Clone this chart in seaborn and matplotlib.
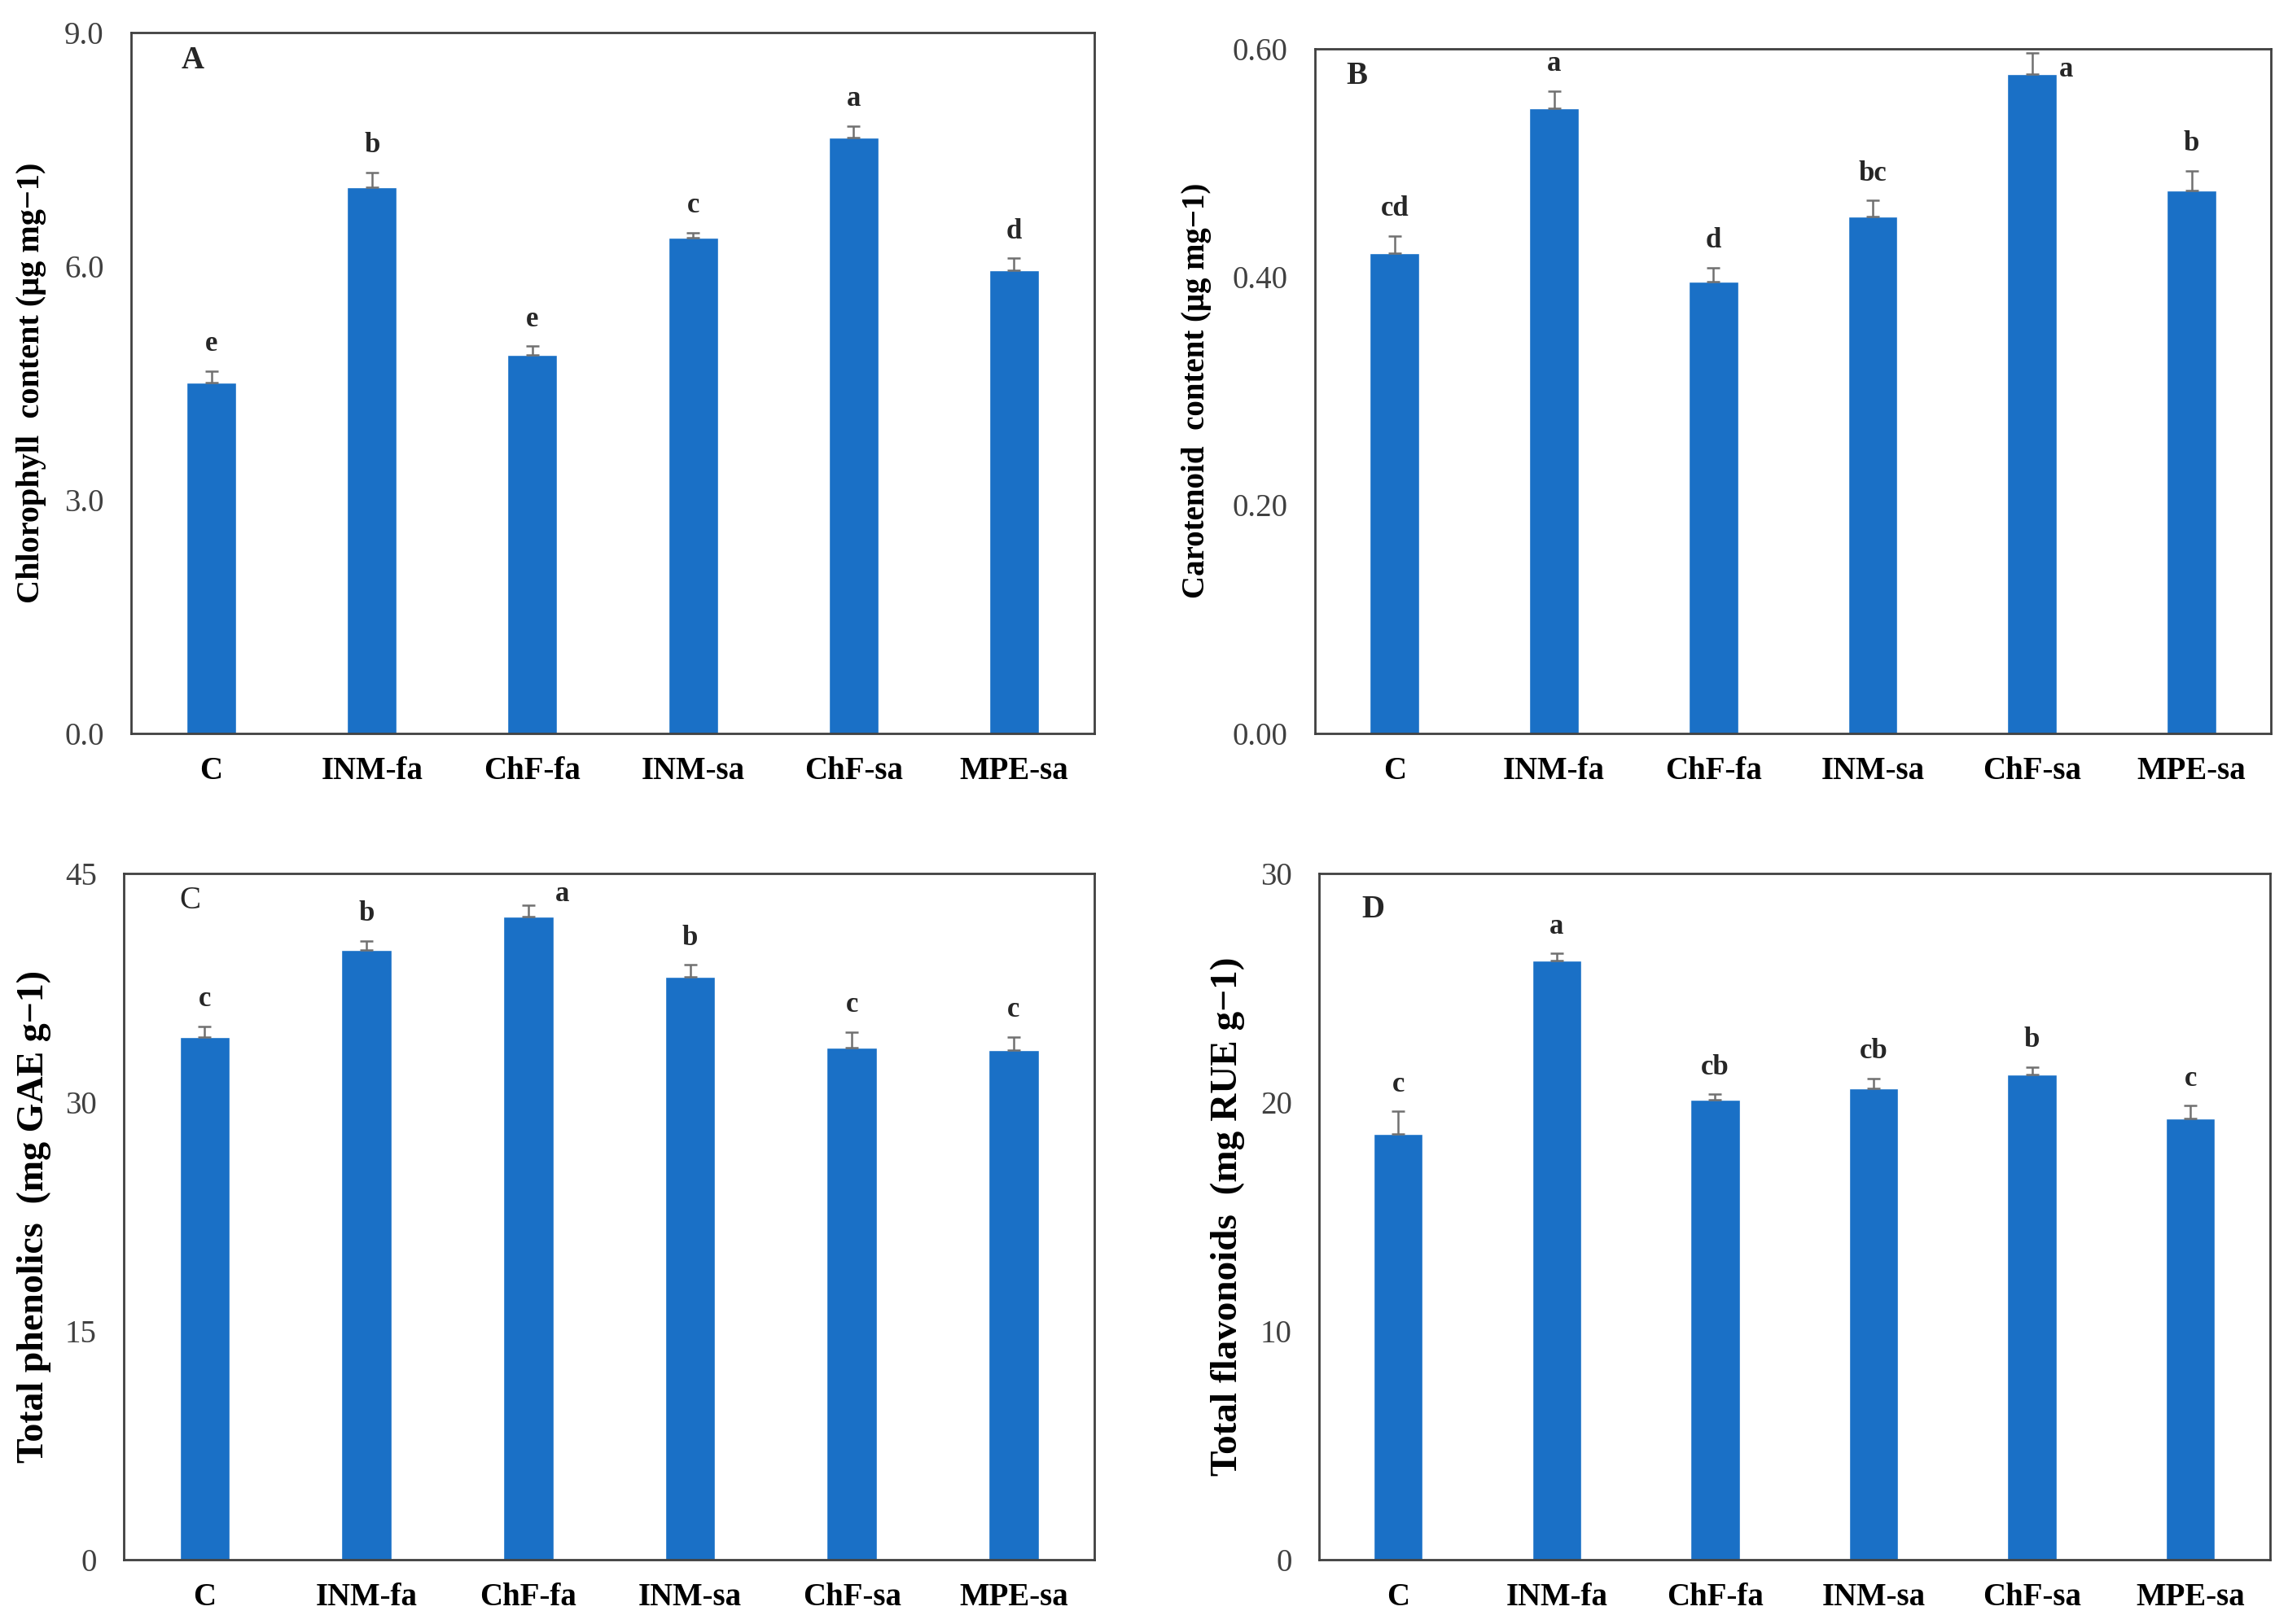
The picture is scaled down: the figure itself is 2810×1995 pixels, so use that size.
import numpy as np
import pandas as pd
import seaborn as sns
import matplotlib.pyplot as plt

treatments = ['C', 'INM-fa', 'ChF-fa', 'INM-sa', 'ChF-sa', 'MPE-sa']

chl_mean = [4.50, 7.01, 4.86, 6.36, 7.65, 5.95]
chl_err = [0.15, 0.19, 0.11, 0.07, 0.15, 0.15]
chl_sig = ['e', 'b', 'e', 'c', 'a', 'd']

car_mean = [0.421, 0.548, 0.396, 0.453, 0.578, 0.476]
car_err = [0.015, 0.015, 0.012, 0.014, 0.018, 0.017]
car_sig = ['cd', 'a', 'd', 'bc', 'a', 'b']

phe_mean = [34.3, 40.0, 42.2, 38.2, 33.6, 33.4]
phe_err = [0.67, 0.6, 0.7, 0.8, 1.0, 0.9]
phe_sig = ['c', 'b', 'a', 'b', 'c', 'c']

fla_mean = [18.6, 26.2, 20.1, 20.6, 21.2, 19.3]
fla_err = [1.0, 0.3, 0.25, 0.45, 0.35, 0.55]
fla_sig = ['c', 'a', 'cb', 'cb', 'b', 'c']

sns.set_theme(style="white")
plt.rcParams['font.family'] = ['Liberation Serif', 'DejaVu Serif']

BLUE = '#1a70c6'

fig = plt.figure(figsize=(28.1, 19.95), dpi=100)

# letter, means, errors, significance, ylabel, label size, yticks, fmt, axes rect, panel letter pos, letter weight, ylabel x
panels = [
    ('A', chl_mean, chl_err, chl_sig, 'Chlorophyll  content (μg mg−1)', 29, [0, 3, 6, 9], '{:.1f}',
     [0.0573, 0.5485, 0.421, 0.4315], (0.064, 0.96), 'bold', -0.088),
    ('B', car_mean, car_err, car_sig, 'Carotenoid  content (μg mg−1)', 28, [0, 0.2, 0.4, 0.6], '{:.2f}',
     [0.5747, 0.5485, 0.418, 0.4215], (0.044, 0.96), 'bold', -0.108),
    ('C', phe_mean, phe_err, phe_sig, 'Total phenolics  (mg GAE g−1)', 33, [0, 15, 30, 45], '{:.0f}',
     [0.0541, 0.0396, 0.4243, 0.4225], (0.068, 0.96), 'normal', -0.075),
    ('D', fla_mean, fla_err, fla_sig, 'Total flavonoids  (mg RUE g−1)', 34, [0, 10, 20, 30], '{:.0f}',
     [0.5765, 0.0396, 0.4155, 0.4225], (0.057, 0.947), 'bold', -0.078),
]

for letter, means, errs, sigs, ylabel, ysize, yticks, fmt, rect, lpos, lweight, ylx in panels:
    ax = fig.add_axes(rect)
    df = pd.DataFrame({'Treatment': treatments, 'Value': means})
    sns.barplot(data=df, x='Treatment', y='Value', color=BLUE, width=0.31,
                saturation=1, errorbar=None, ax=ax)
    ax.errorbar(np.arange(len(treatments)), means,
                yerr=[np.zeros(len(errs)), errs], fmt='none',
                ecolor='#707070', elinewidth=1.8, capsize=6, capthick=1.8)

    ymax = yticks[-1]
    ax.set_ylim(0, ymax)
    ax.set_xlim(-0.5, len(treatments) - 0.5)
    ax.set_yticks(yticks)
    ax.set_yticklabels([fmt.format(t) for t in yticks], fontsize=28, color='#404040')
    ax.set_xticks(range(len(treatments)))
    ax.set_xticklabels(treatments, fontsize=28, fontweight='bold', color='black')
    ax.tick_params(axis='x', length=0, pad=20)
    ax.tick_params(axis='y', length=0, pad=24)
    ax.set_xlabel('')
    ax.set_ylabel(ylabel, fontsize=ysize, fontweight='bold', color='black')
    ax.yaxis.set_label_coords(ylx, 0.5)

    for sp in ax.spines.values():
        sp.set_visible(True)
        sp.set_color('#404040')
        sp.set_linewidth(2.0)

    # significance letters; those that would hit the frame go beside the bar
    for i, (m, e, s) in enumerate(zip(means, errs, sigs)):
        top = m + e
        if top + ymax * 0.055 > ymax:
            ax.annotate(s, (i, ymax * 0.97), xytext=(30, 0), textcoords='offset points',
                        ha='center', va='center', fontsize=25, fontweight='bold')
        else:
            ax.annotate(s, (i, top), xytext=(0, 12), textcoords='offset points',
                        ha='center', va='bottom', fontsize=25, fontweight='bold')

    ax.text(lpos[0], lpos[1], letter, transform=ax.transAxes, fontsize=28,
            fontweight=lweight, ha='center', va='center')

fig.savefig('out.png', dpi=100)
